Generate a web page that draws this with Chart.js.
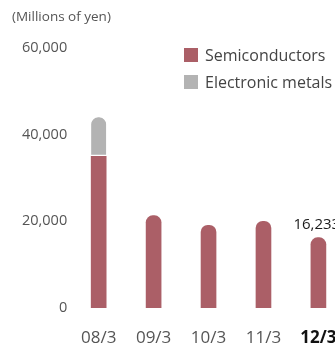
<!DOCTYPE html>
<html>
<head>
<meta charset="utf-8">
<script src="https://cdn.jsdelivr.net/npm/chart.js@4"></script>
<style>
  html, body { margin: 0; padding: 0; background: #fff; overflow: hidden; }
  #wrap { width: 335px; height: 344px; overflow: hidden; }
</style>
</head>
<body>
<div id="wrap"><canvas id="chart" width="359" height="369"></canvas></div>
<script>
// values (millions of yen)
const categories = ['08/3', '09/3', '10/3', '11/3', '12/3'];
const semiconductors = [35000, 21300, 19100, 20000, 16233];
const electronicMetals = [9000, null, null, null, null];
const yTicks = [0, 20000, 40000, 60000];
const valueLabels = [null, null, null, null, '16,233'];

const RED = '#ab5f67';
const GREY = '#b3b3b3';
const FONT = '"Open Sans", "Noto Sans", sans-serif';

// round the top only on the bar that ends the stack
const topRadius = (ctx, isTop) => {
  const r = 7;
  if (isTop) return { topLeft: r, topRight: r, bottomLeft: 0, bottomRight: 0 };
  const hasMetal = electronicMetals[ctx.dataIndex];
  return hasMetal ? 0 : { topLeft: r, topRight: r, bottomLeft: 0, bottomRight: 0 };
};

const extras = {
  id: 'extras',
  afterDraw(chart) {
    const c = chart.ctx;
    c.save();
    // unit caption
    c.fillStyle = '#555';
    c.font = '13.5px ' + FONT;
    c.textAlign = 'left';
    c.textBaseline = 'middle';
    c.fillText('(Millions of yen)', 12, 17);

    // legend
    const items = chart.data.datasets.map(d => ({ label: d.label, color: d.backgroundColor }));
    c.font = '16px ' + FONT;
    items.forEach((it, i) => {
      const y = 55 + i * 27;
      c.fillStyle = it.color;
      c.fillRect(184, y - 7, 14, 14);
      c.fillStyle = '#444';
      c.fillText(it.label, 205, y + 1);
    });

    // value label above the latest bar
    const meta = chart.getDatasetMeta(0);
    c.font = '15px ' + FONT;
    c.fillStyle = '#1a1a1a';
    c.textAlign = 'left';
    valueLabels.forEach((t, i) => {
      if (!t) return;
      const bar = meta.data[i];
      c.fillText(t, bar.x - 25, bar.y - 13);
    });
    c.restore();
  }
};

new Chart(document.getElementById('chart'), {
  type: 'bar',
  data: {
    labels: categories,
    datasets: [
      {
        label: 'Semiconductors',
        data: semiconductors,
        backgroundColor: RED,
        borderWidth: 0,
        borderRadius: ctx => topRadius(ctx, false),
        borderSkipped: false,
        barThickness: 15
      },
      {
        label: 'Electronic metals',
        data: electronicMetals,
        backgroundColor: GREY,
        borderColor: '#fff',
        borderWidth: { top: 0, left: 0, right: 0, bottom: 2 },
        borderRadius: ctx => topRadius(ctx, true),
        borderSkipped: false,
        barThickness: 15
      }
    ]
  },
  options: {
    responsive: false,
    animation: false,
    layout: { padding: { left: 18, right: 5, top: 48, bottom: 0 } },
    plugins: {
      legend: { display: false },
      tooltip: { enabled: false }
    },
    scales: {
      x: {
        stacked: true,
        grid: { display: false, drawTicks: false },
        border: { display: false },
        ticks: {
          padding: 22,
          color: ctx => ctx.index === 4 ? '#111' : '#555',
          font: ctx => ({ family: FONT, size: 17, lineHeight: 1, weight: ctx.index === 4 ? 'bold' : 'normal' })
        }
      },
      y: {
        stacked: true,
        min: 0,
        max: 60000,
        afterBuildTicks: axis => { axis.ticks = yTicks.map(v => ({ value: v })); },
        grid: { display: false, drawTicks: false },
        border: { display: false },
        ticks: {
          padding: 4,
          color: '#555',
          font: { family: FONT, size: 14.5 },
          callback: v => v.toLocaleString('en-US')
        }
      }
    }
  },
  plugins: [extras]
});
</script>
</body>
</html>
